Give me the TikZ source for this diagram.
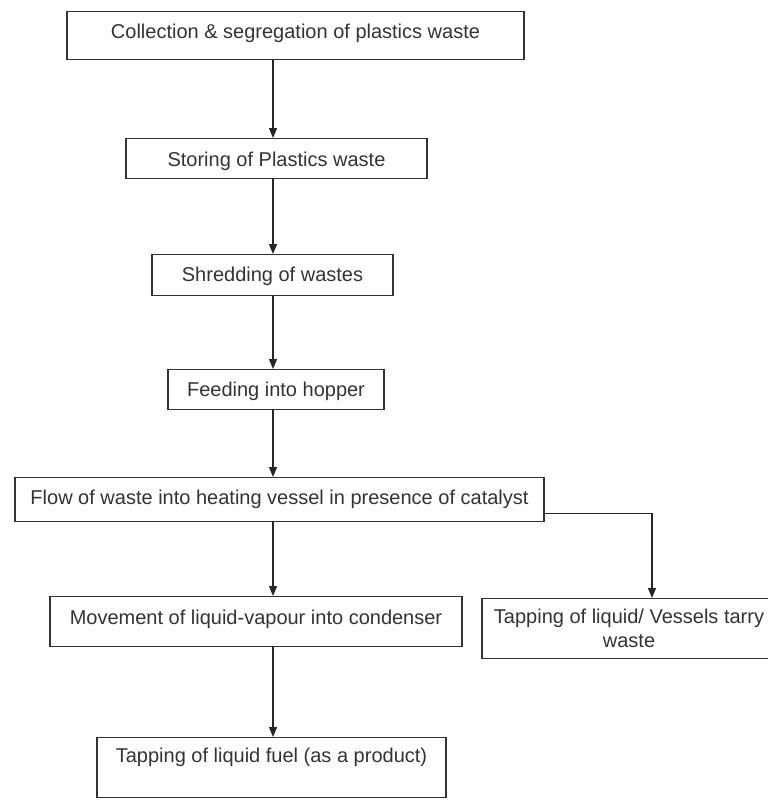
\documentclass[tikz,border=0pt]{standalone}
\usepackage{fontspec}
\setmainfont{Liberation Sans}
\usetikzlibrary{arrows.meta,positioning}

\begin{document}
\begin{tikzpicture}[x=1pt, y=-1pt, every node/.style={font=\fontsize{20}{24}\selectfont, text=black!80}, box/.style={draw=black!80, line width=1.2pt, inner xsep=0pt, inner ysep=0pt, anchor=north, align=center}, arr/.style={-{Triangle[length=10pt,width=8pt]}, line width=1.2pt, draw=black!85}]
\useasboundingbox (0,0) rectangle (768,803);
\clip (0,0) rectangle (768,803);
\coordinate (spine) at (273,0);
\node[box, minimum width=457pt, text height=26.5pt, text depth=21.5pt] (collect) at (295.5,11) {Collection \& segregation of plastics waste};
\node[box, minimum width=301pt, text height=27.5pt, text depth=12.5pt] (store) at (276.5,138) {Storing of Plastics waste};
\node[box, minimum width=241pt, text height=27pt, text depth=14pt] (shred) at (272.5,254) {Shredding of wastes};
\node[box, minimum width=216pt, text height=27pt, text depth=13pt] (feed) at (276,369) {Feeding into hopper};
\node[box, minimum width=529pt, text height=27pt, text depth=17pt] (heat) at (279.5,477) {Flow of waste into heating vessel in presence of catalyst};
\node[box, minimum width=412pt, text height=28pt, text depth=22pt] (cond) at (256,596) {Movement of liquid-vapour into condenser};
\node[box, minimum width=294pt, minimum height=60pt] (tarry) at (629,598) {Tapping of liquid/ Vessels tarry\\waste};
\node[box, minimum width=349pt, text height=25pt, text depth=35pt] (fuel) at (271.5,737) {Tapping of liquid fuel (as a product)};
\draw[arr] (collect.south -| spine) -- (store.north -| spine); \draw[arr] (store.south -| spine) -- (shred.north -| spine);
\draw[arr] (shred.south -| spine) -- (feed.north -| spine); \draw[arr] (feed.south -| spine) -- (heat.north -| spine);
\draw[arr] (heat.south -| spine) -- (cond.north -| spine); \draw[arr] (cond.south -| spine) -- (fuel.north -| spine);
\draw[arr] ([yshift=9pt]heat.south east) -| ([xshift=23pt]tarry.north);
\end{tikzpicture}
\end{document}
